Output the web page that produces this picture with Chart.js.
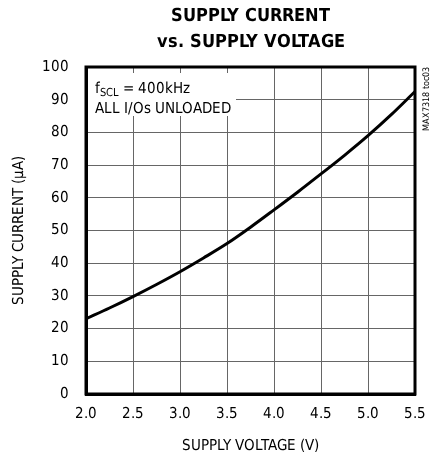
<!DOCTYPE html>
<html>
<head>
<meta charset="utf-8">
<script src="https://cdn.jsdelivr.net/npm/chart.js@4/dist/chart.umd.min.js"></script>
<style>
  @font-face {
    font-family: "NarrowLocal";
    src: local("Liberation Sans Narrow"), local("LiberationSansNarrow-Regular"),
         local("DejaVu Sans Condensed"), local("DejaVuSansCondensed");
    font-weight: normal;
  }
  @font-face {
    font-family: "NarrowLocal";
    src: local("Liberation Sans Narrow Bold"), local("LiberationSansNarrow-Bold"),
         local("DejaVu Sans Condensed Bold"), local("DejaVuSansCondensed-Bold");
    font-weight: bold;
  }
  html, body { margin: 0; padding: 0; background: #fff; }
  #wrap { width: 437px; height: 459px; }
</style>
</head>
<body>
<div id="wrap"><canvas id="chart" width="437" height="459"></canvas></div>
<script>
const voltage = [2.0, 2.25, 2.5, 2.75, 3.0, 3.25, 3.5, 3.75, 4.0, 4.25, 4.5, 4.75, 5.0, 5.25, 5.5];
const current = [23, 26.3, 29.8, 33.5, 37.4, 41.6, 46, 51, 56.3, 61.7, 67.3, 73, 79, 85.5, 92.5];
const xTicks = [2.0, 2.5, 3.0, 3.5, 4.0, 4.5, 5.0, 5.5];
const yTicks = [0, 10, 20, 30, 40, 50, 60, 70, 80, 90, 100];
const titleLines = ["SUPPLY CURRENT", "vs. SUPPLY VOLTAGE"];

const NARROW = "NarrowLocal, 'Liberation Sans', Arial, sans-serif";

const decor = {
  id: "decor",
  beforeDatasetsDraw(chart) {
    const { ctx, chartArea: a } = chart;
    // white box behind the note
    ctx.save();
    ctx.fillStyle = "#fff";
    ctx.fillRect(a.left + 2, a.top + 6, 148, 43);
    ctx.restore();
  },
  afterDraw(chart) {
    const { ctx, chartArea: a } = chart;
    ctx.save();
    ctx.fillStyle = "#000";
    ctx.textAlign = "center";
    ctx.textBaseline = "alphabetic";
    ctx.font = `bold 18px ${NARROW}`;
    const cx = (a.left + a.right) / 2;
    ctx.fillText(titleLines[0], cx, 21);
    ctx.fillText(titleLines[1], cx, 47);

    // note
    ctx.textAlign = "left";
    ctx.font = `15px ${NARROW}`;
    let x = a.left + 9;
    ctx.fillText("f", x, a.top + 26);
    x += ctx.measureText("f").width;
    ctx.font = `11px ${NARROW}`;
    ctx.fillText("SCL", x, a.top + 29);
    x += ctx.measureText("SCL").width;
    ctx.font = `15px ${NARROW}`;
    ctx.fillText(" = 400kHz", x, a.top + 26);
    ctx.fillText("ALL I/Os UNLOADED", a.left + 9, a.top + 46);

    // side code
    ctx.translate(a.right + 12, a.top);
    ctx.rotate(-Math.PI / 2);
    ctx.textAlign = "right";
    ctx.textBaseline = "middle";
    ctx.font = `9px ${NARROW}`;
    ctx.fillText("MAX7318 toc03", 0, 0);
    ctx.restore();
  }
};

function draw() {
  new Chart(document.getElementById("chart"), {
    type: "line",
    data: {
      datasets: [{
        data: voltage.map((v, i) => ({ x: v, y: current[i] })),
        borderColor: "#000",
        borderWidth: 3,
        pointRadius: 0,
        cubicInterpolationMode: "monotone",
        fill: false
      }]
    },
    options: {
      responsive: false,
      animation: false,
      layout: { padding: { left: 6, right: 21, top: 67, bottom: 0 } },
      plugins: { legend: { display: false }, tooltip: { enabled: false } },
      scales: {
        x: {
          type: "linear",
          min: 2.0,
          max: 5.5,
          afterBuildTicks: (s) => { s.ticks = xTicks.map((v) => ({ value: v })); },
          afterFit: (s) => { s.height = 65; },
          ticks: {
            color: "#000",
            padding: 11,
            font: { family: NARROW, size: 15 },
            callback: (v) => Number(v).toFixed(1)
          },
          grid: { color: "#666", lineWidth: 1, drawTicks: false },
          border: { color: "#000", width: 3 },
          title: {
            display: true,
            text: "SUPPLY VOLTAGE (V)",
            color: "#000",
            font: { family: NARROW, size: 15 },
            padding: { top: 8 }
          }
        },
        y: {
          min: 0,
          max: 100,
          afterBuildTicks: (s) => { s.ticks = yTicks.map((v) => ({ value: v })); },
          afterFit: (s) => { s.width = 80; },
          ticks: {
            color: "#000",
            padding: 17,
            font: { family: NARROW, size: 15 }
          },
          grid: { color: "#666", lineWidth: 1, drawTicks: false },
          border: { color: "#000", width: 3 },
          title: {
            display: true,
            text: "SUPPLY CURRENT (\u03bcA)",
            color: "#000",
            font: { family: NARROW, size: 15 },
            padding: { bottom: 0 }
          }
        }
      }
    },
    plugins: [decor, {
      id: "frame",
      afterDatasetsDraw(chart) {
        const { ctx, chartArea: a } = chart;
        ctx.save();
        ctx.strokeStyle = "#000";
        ctx.lineWidth = 3;
        ctx.strokeRect(a.left, a.top, a.right - a.left, a.bottom - a.top);
        ctx.restore();
      }
    }]
  });
}

Promise.all([
  document.fonts.load("15px NarrowLocal"),
  document.fonts.load("bold 18px NarrowLocal")
]).then(draw, draw);
</script>
</body>
</html>
